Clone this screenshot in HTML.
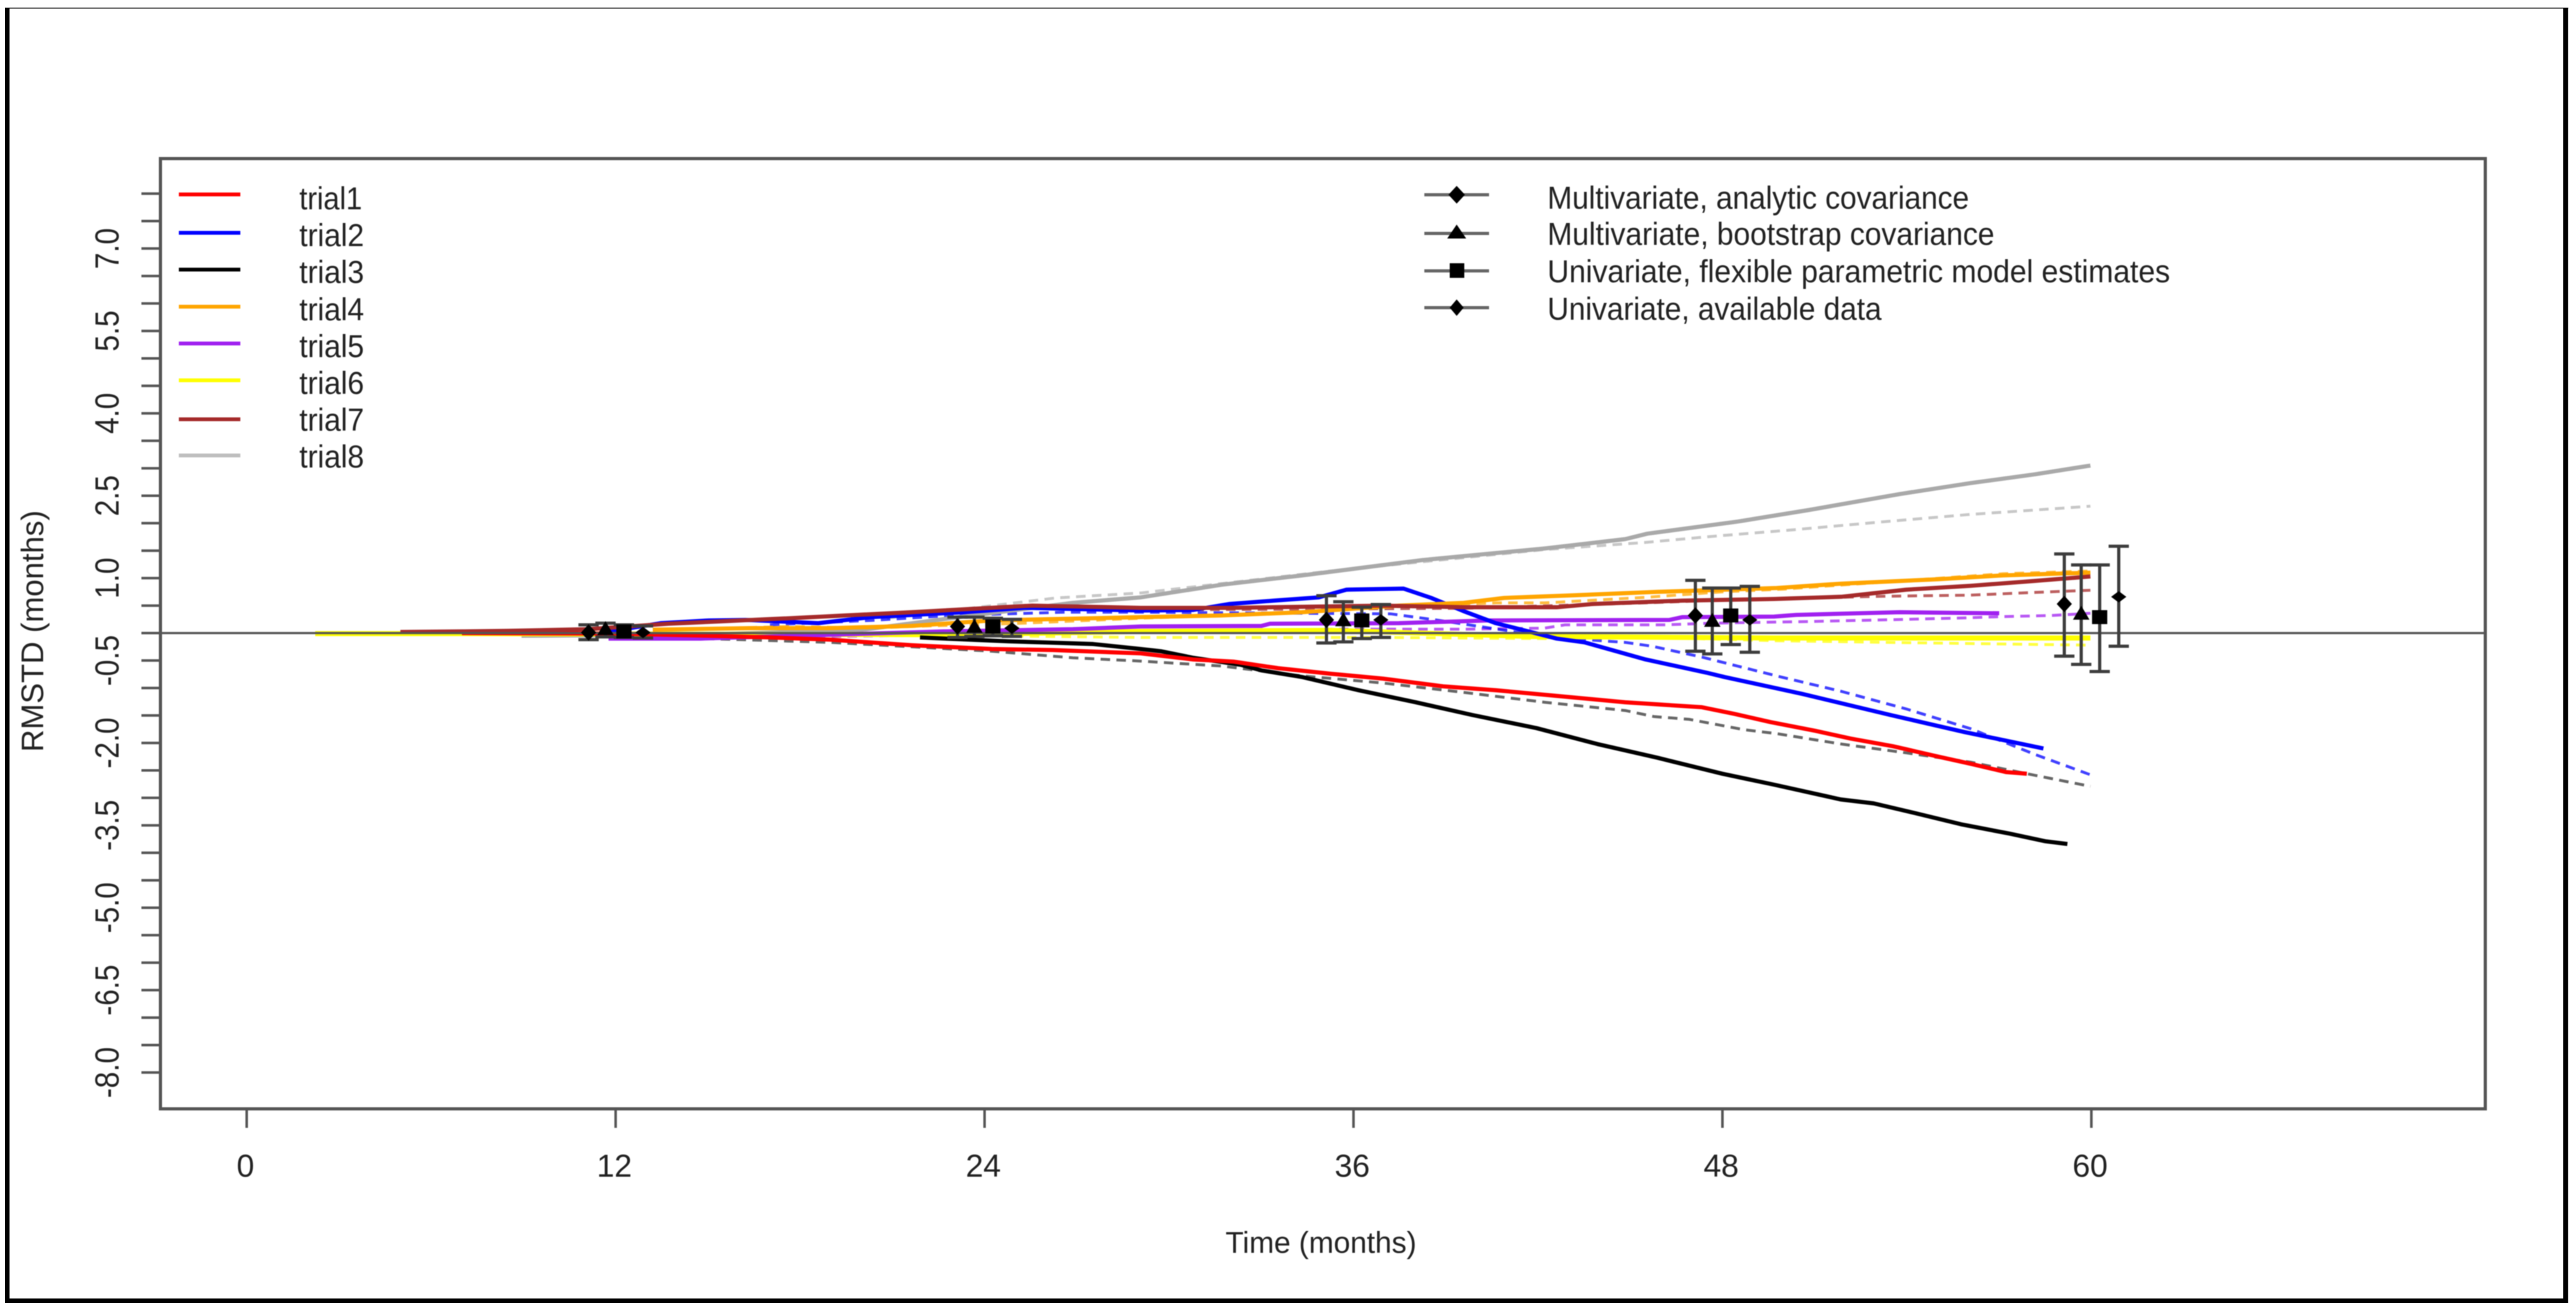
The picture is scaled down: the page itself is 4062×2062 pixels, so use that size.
<!DOCTYPE html>
<html lang="en">
<head>
<meta charset="utf-8">
<title>RMSTD over time</title>
<style>
html,body{margin:0;padding:0;background:#fff;}
svg{display:block;}
text{font-family:"Liberation Sans",sans-serif;fill:#222;}
</style>
</head>
<body>
<svg id="chart" xmlns="http://www.w3.org/2000/svg" width="4062" height="2062" viewBox="0 0 4062 2062">
  <rect x="0" y="0" width="4062" height="2062" fill="#fff"/>
  <g fill="#000">
    <rect x="8" y="12" width="4042" height="1.5"/>
    <rect x="8" y="12" width="7" height="2042"/>
    <rect x="4042" y="12" width="7.5" height="2042"/>
    <rect x="8" y="2047" width="4041.5" height="7"/>
  </g>
  <g id="soft" style="filter:blur(0.9px)">
    <g id="series-layer"></g>
    <g id="axis-layer"></g>
    <g id="estimate-layer"></g>
    <rect x="253" y="250" width="3666" height="1498" fill="none" stroke="#555" stroke-width="5"/>
    <text x="2083" y="1975" font-size="47" text-anchor="middle">Time (months)</text>
    <text transform="translate(68,995) rotate(-90)" font-size="49" text-anchor="middle">RMSTD (months)</text>
    <g font-size="50" stroke-width="6">
      <g><line x1="282" x2="379" y1="306.5" y2="306.5" stroke="#ff0000"/><text x="472" y="330" stroke="none" textLength="99" lengthAdjust="spacingAndGlyphs">trial1</text></g>
      <g><line x1="282" x2="379" y1="367" y2="367" stroke="#0000ff"/><text x="472" y="388" stroke="none" textLength="102" lengthAdjust="spacingAndGlyphs">trial2</text></g>
      <g><line x1="282" x2="379" y1="425" y2="425" stroke="#000000"/><text x="472" y="446" stroke="none" textLength="102" lengthAdjust="spacingAndGlyphs">trial3</text></g>
      <g><line x1="282" x2="379" y1="483.5" y2="483.5" stroke="#ffa500"/><text x="472" y="505" stroke="none" textLength="102" lengthAdjust="spacingAndGlyphs">trial4</text></g>
      <g><line x1="282" x2="379" y1="541.5" y2="541.5" stroke="#a020f0"/><text x="472" y="563" stroke="none" textLength="102" lengthAdjust="spacingAndGlyphs">trial5</text></g>
      <g><line x1="282" x2="379" y1="599.5" y2="599.5" stroke="#ffff00"/><text x="472" y="621" stroke="none" textLength="102" lengthAdjust="spacingAndGlyphs">trial6</text></g>
      <g><line x1="282" x2="379" y1="661" y2="661" stroke="#a52a2a"/><text x="472" y="679" stroke="none" textLength="102" lengthAdjust="spacingAndGlyphs">trial7</text></g>
      <g><line x1="282" x2="379" y1="718" y2="718" stroke="#bebebe"/><text x="472" y="737" stroke="none" textLength="102" lengthAdjust="spacingAndGlyphs">trial8</text></g>
    </g>
    <g font-size="50">
      <g>
        <line x1="2246" x2="2348" y1="307" y2="307" stroke="#666" stroke-width="5"/>
        <polygon points="2297,293 2310,307 2297,321 2284,307" fill="#000"/>
        <text x="2440" y="329" textLength="665" lengthAdjust="spacingAndGlyphs">Multivariate, analytic covariance</text>
      </g>
      <g>
        <line x1="2246" x2="2348" y1="368" y2="368" stroke="#666" stroke-width="5"/>
        <polygon points="2297,354 2312,376 2282,376" fill="#000"/>
        <text x="2440" y="386" textLength="705" lengthAdjust="spacingAndGlyphs">Multivariate, bootstrap covariance</text>
      </g>
      <g>
        <line x1="2246" x2="2348" y1="427" y2="427" stroke="#666" stroke-width="5"/>
        <rect x="2286" y="415" width="23" height="23" fill="#000"/>
        <text x="2440" y="445" textLength="982" lengthAdjust="spacingAndGlyphs">Univariate, flexible parametric model estimates</text>
      </g>
      <g>
        <line x1="2246" x2="2348" y1="485" y2="485" stroke="#666" stroke-width="5"/>
        <polygon points="2297,472 2308,485 2297,498 2286,485" fill="#000"/>
        <text x="2440" y="504" textLength="527" lengthAdjust="spacingAndGlyphs">Univariate, available data</text>
      </g>
    </g>
  </g>
</svg>
<script>
// ---- axis data ----
const xTickValues = [0, 12, 24, 36, 48, 60];
const xTickLabels = ["0", "12", "24", "36", "48", "60"];
const yMinorTicks = [-8, -7.5, -7, -6.5, -6, -5.5, -5, -4.5, -4, -3.5, -3, -2.5, -2, -1.5, -1, -0.5, 0, 0.5, 1, 1.5, 2, 2.5, 3, 3.5, 4, 4.5, 5, 5.5, 6, 6.5, 7, 7.5, 8];
const yTickLabels = ["7.0", "5.5", "4.0", "2.5", "1.0", "-0.5", "-2.0", "-3.5", "-5.0", "-6.5", "-8.0"];

// ---- solid observed series ----
const trial1Months = [7, 12, 15, 17.02, 18.98, 21.62, 24.23, 26.21, 29.08, 30.79, 32.1, 33.55, 35.26, 36.97, 38.92, 40.63, 42.74, 44.84, 47.33, 48.38, 49.56, 51.02, 52.17, 53.55, 55.02, 56.07, 57.22, 57.9];
const trial1Rmstd = [0, -0.01, -0.05, -0.08, -0.12, -0.22, -0.29, -0.31, -0.37, -0.48, -0.52, -0.64, -0.74, -0.83, -0.97, -1.04, -1.15, -1.26, -1.35, -1.47, -1.62, -1.78, -1.92, -2.06, -2.25, -2.38, -2.53, -2.56];
const trial2Months = [11.5, 13.46, 15.04, 16.22, 18.59, 20.3, 23.33, 25.28, 29.08, 30.79, 31.97, 33.4, 34.87, 35.77, 37.63, 38.53, 39.58, 40.63, 41.69, 42.61, 43.52, 45.5, 47.48, 48.07, 50.61, 53.45, 55.86, 58.44];
const trial2Rmstd = [0, 0.18, 0.23, 0.24, 0.18, 0.29, 0.38, 0.46, 0.41, 0.42, 0.53, 0.59, 0.65, 0.79, 0.81, 0.64, 0.4, 0.18, 0.03, -0.1, -0.17, -0.48, -0.72, -0.8, -1.11, -1.49, -1.8, -2.1];
const trial3Months = [21.9, 22.28, 24.77, 25.94, 27.53, 29.08, 29.73, 30.79, 32.35, 33.01, 34.33, 36.16, 38.02, 39.85, 41.95, 43.93, 45.89, 47.99, 49.68, 51.86, 52.92, 54.28, 55.76, 57.33, 58.5, 59.22];
const trial3Rmstd = [-0.08, -0.09, -0.15, -0.17, -0.2, -0.29, -0.33, -0.45, -0.58, -0.68, -0.8, -1.04, -1.26, -1.49, -1.73, -2.02, -2.27, -2.56, -2.76, -3.03, -3.1, -3.28, -3.48, -3.65, -3.79, -3.84];
const trial4Months = [13.21, 16.36, 18.98, 21.62, 24.23, 29.08, 31.71, 34.33, 37.48, 39.58, 40.9, 43.27, 45.89, 49.76, 51.86, 55.02, 57.12, 59.97];
const trial4Rmstd = [0.06, 0.09, 0.09, 0.13, 0.23, 0.29, 0.32, 0.38, 0.5, 0.55, 0.64, 0.69, 0.75, 0.82, 0.9, 0.98, 1.05, 1.1];
const trial5Months = [11.77, 14.77, 22.67, 26.87, 29.08, 33.01, 33.28, 37.48, 40.37, 46.28, 46.69, 49.68, 50.4, 53.76, 57];
const trial5Rmstd = [-0.1, -0.1, 0.03, 0.07, 0.12, 0.13, 0.17, 0.18, 0.23, 0.24, 0.29, 0.3, 0.33, 0.38, 0.36];
const trial6Months = [2.23, 6.7, 22.89, 29.08, 35.26, 41.69, 49.68, 59.97];
const trial6Rmstd = [-0.01, -0.01, -0.03, 0.03, 0.05, -0.06, -0.09, -0.09];
const trial7Months = [5, 7.1, 8.47, 11.11, 13.72, 17.66, 21.62, 25.55, 29.08, 31.97, 36.97, 39.58, 42.61, 43.79, 46.69, 49.68, 51.86, 53.97, 56.07, 58.17, 59.97];
const trial7Rmstd = [0.02, 0.03, 0.04, 0.07, 0.17, 0.27, 0.38, 0.5, 0.46, 0.46, 0.5, 0.47, 0.47, 0.53, 0.59, 0.62, 0.66, 0.79, 0.86, 0.95, 1.03];
const trial8Months = [8.94, 14.65, 20.03, 22.89, 26.87, 29.08, 31.71, 34.33, 38.26, 42.22, 44.84, 45.56, 48.5, 50.81, 53.76, 56.07, 58.17, 59.97];
const trial8Rmstd = [-0.05, -0.03, 0.06, 0.27, 0.55, 0.65, 0.88, 1.05, 1.33, 1.54, 1.71, 1.81, 2.03, 2.24, 2.53, 2.73, 2.89, 3.05];

// ---- dashed predicted series ----
const trial1DashMonths = [14.9, 18.98, 21.62, 24.23, 26.87, 29.08, 31.71, 34.33, 36.97, 39.58, 42.22, 44.84, 45.77, 46.92, 48.71, 49.76, 51.86, 53.97, 56.07, 58.17, 59.97];
const trial1DashRmstd = [-0.1, -0.17, -0.25, -0.33, -0.45, -0.51, -0.6, -0.78, -0.91, -1.08, -1.26, -1.41, -1.52, -1.57, -1.76, -1.83, -2.02, -2.18, -2.35, -2.59, -2.79];
const trial2DashMonths = [17.02, 20.3, 22.91, 26.6, 29.08, 37.21, 38.8, 42.47, 44.84, 45.72, 47.35, 49.76, 51.86, 53.97, 56.07, 58.17, 59.97];
const trial2DashRmstd = [0.15, 0.23, 0.32, 0.38, 0.38, 0.35, 0.23, -0.08, -0.17, -0.24, -0.44, -0.78, -1.06, -1.38, -1.74, -2.21, -2.58];
const trial4DashMonths = [13.72, 17.66, 20.3, 21.62, 25.28, 29.08, 31.71, 34.33, 36.97, 40.63, 42.22, 45.5, 48, 50, 57.12, 59.97];
const trial4DashRmstd = [0.06, 0.12, 0.09, 0.12, 0.18, 0.27, 0.32, 0.38, 0.47, 0.55, 0.55, 0.65, 0.75, 0.8, 1.08, 1.13];
const trial5DashMonths = [14.9, 16.9, 35.38, 39.58, 42.22, 42.88, 46.16, 47.66, 50.81, 53.97, 56.07, 57.12, 58.71, 59.97];
const trial5DashRmstd = [-0.08, -0.08, 0.07, 0.07, 0.09, 0.15, 0.15, 0.18, 0.21, 0.25, 0.28, 0.3, 0.32, 0.36];
const trial6DashMonths = [20.83, 29.08, 36.97, 42.22, 45.77, 49.76, 54.71, 59.97];
const trial6DashRmstd = [-0.03, -0.08, -0.08, -0.1, -0.08, -0.14, -0.18, -0.22];
const trial7DashMonths = [20, 25, 29.08, 39.58, 45.5, 48, 53.22, 56.07, 58.17, 59.97];
const trial7DashRmstd = [0.3, 0.45, 0.42, 0.45, 0.55, 0.6, 0.67, 0.69, 0.74, 0.78];
const trial8DashMonths = [20.83, 26.33, 29.08, 35.26, 42.22, 45.5, 47.66, 50.3, 52.92, 56.07, 58.17, 59.97];
const trial8DashRmstd = [0.27, 0.64, 0.73, 1.13, 1.52, 1.65, 1.76, 1.88, 2.01, 2.16, 2.24, 2.31];

// ---- pooled estimates at each landmark time ----
const landmarkMonths = [12, 24, 36, 48, 60];
const analyticEstimate = [0.01, 0.12, 0.24, 0.32, 0.53];
const analyticLower = [-0.12, -0.08, -0.18, -0.33, -0.42];
const analyticUpper = [0.15, 0.29, 0.68, 0.96, 1.44];
const bootstrapEstimate = [0.08, 0.12, 0.24, 0.23, 0.36];
const bootstrapLower = [-0.07, -0.06, -0.16, -0.38, -0.57];
const bootstrapUpper = [0.18, 0.29, 0.57, 0.82, 1.24];
const flexibleEstimate = [0.03, 0.12, 0.23, 0.32, 0.29];
const flexibleLower = [-0.08, -0.05, -0.1, -0.21, -0.7];
const flexibleUpper = [0.15, 0.27, 0.47, 0.82, 1.24];
const availableEstimate = [0.01, 0.09, 0.24, 0.24, 0.66];
const availableLower = [-0.09, -0.06, -0.08, -0.35, -0.24];
const availableUpper = [0.13, 0.25, 0.52, 0.85, 1.58];
const methodOffsetMonths = [-0.88, -0.33, 0.27, 0.89];

// ---- axis functions ----
function xScale(month) { return 389 + 48.48 * month; }
function yScale(value) { return 998 - 86.6 * value; }

const NS = "http://www.w3.org/2000/svg";
function make(tag, attrs, parent) {
  const node = document.createElementNS(NS, tag);
  for (const key in attrs) node.setAttribute(key, attrs[key]);
  parent.appendChild(node);
  return node;
}

const seriesLayer = document.getElementById("series-layer");
const axisLayer = document.getElementById("axis-layer");
const estimateLayer = document.getElementById("estimate-layer");

function pathFrom(months, values) {
  return months.map(function (m, i) { return xScale(m).toFixed(1) + "," + yScale(values[i]).toFixed(1); }).join(" ");
}

function drawDashed(months, values, color, label) {
  const el = make("polyline", { points: pathFrom(months, values), fill: "none", stroke: color, "stroke-width": 4.5, "stroke-dasharray": "15 10", opacity: 0.75 }, seriesLayer);
  
  
}
function drawSolid(months, values, color, label, width) {
  const el = make("polyline", { points: pathFrom(months, values), fill: "none", stroke: color, "stroke-width": width, "stroke-linejoin": "round" }, seriesLayer);
  
  
}

drawDashed(trial8DashMonths, trial8DashRmstd, "#b4b4b4", "trial8-dashed-line");
drawDashed(trial6DashMonths, trial6DashRmstd, "#ffff00", "trial6-dashed-line");
drawDashed(trial5DashMonths, trial5DashRmstd, "#a020f0", "trial5-dashed-line");
drawDashed(trial7DashMonths, trial7DashRmstd, "#a52a2a", "trial7-dashed-line");
drawDashed(trial2DashMonths, trial2DashRmstd, "#0000ff", "trial2-dashed-line");
drawDashed(trial1DashMonths, trial1DashRmstd, "#333333", "trial1-dashed-line");
drawSolid(trial8Months, trial8Rmstd, "#a9a9a9", "trial8-line", 6.5);
drawSolid(trial6Months, trial6Rmstd, "#ffff00", "trial6-line", 8);
drawSolid(trial5Months, trial5Rmstd, "#a020f0", "trial5-line", 6.5);
drawSolid(trial3Months, trial3Rmstd, "#000000", "trial3-line", 6.5);
drawSolid(trial1Months, trial1Rmstd, "#ff0000", "trial1-line", 6.5);
drawSolid(trial2Months, trial2Rmstd, "#0000ff", "trial2-line", 6.5);
drawSolid(trial4Months, trial4Rmstd, "#ffa500", "trial4-line", 6.5);
drawDashed(trial4DashMonths, trial4DashRmstd, "#ffa500", "trial4-dashed-line");
drawSolid(trial7Months, trial7Rmstd, "#a52a2a", "trial7-line", 6.5);

// zero reference line
const zeroLine = make("line", { x1: 253, x2: 3919, y1: yScale(0), y2: yScale(0), stroke: "#555", "stroke-width": 3.5 }, axisLayer);



// x axis
xTickValues.forEach(function (month, i) {
  const tick = make("line", { x1: xScale(month), x2: xScale(month), y1: 1748, y2: 1778, stroke: "#555", "stroke-width": 4 }, axisLayer);
  
  
  const label = make("text", { x: xScale(month) - 2, y: 1855, "font-size": 50, "text-anchor": "middle" }, axisLayer);
  
  
  label.textContent = xTickLabels[i];
});

// y axis
yMinorTicks.forEach(function (value) {
  const tick = make("line", { x1: 223, x2: 253, y1: yScale(value), y2: yScale(value), stroke: "#555", "stroke-width": 4 }, axisLayer);
  
  
});
yTickLabels.forEach(function (text) {
  const label = make("text", { transform: "translate(187," + yScale(parseFloat(text)) + ") rotate(-90) scale(0.88,1)", "font-size": 53, "text-anchor": "middle" }, axisLayer);
  
  
  label.textContent = text;
});

// pooled estimates with error bars
function drawInterval(groupIndex, methodIndex, estimate, lower, upper, capHalf, label) {
  const cx = xScale(landmarkMonths[groupIndex] + methodOffsetMonths[methodIndex]);
  const group = make("g", { stroke: "#3c3c3c", "stroke-width": 5 }, estimateLayer);
  
  
  make("line", { x1: cx, x2: cx, y1: yScale(upper), y2: yScale(lower) }, group);
  make("line", { x1: cx - capHalf, x2: cx + capHalf, y1: yScale(upper), y2: yScale(upper) }, group);
  make("line", { x1: cx - capHalf, x2: cx + capHalf, y1: yScale(lower), y2: yScale(lower) }, group);
  return { group: group, cx: cx, cy: yScale(estimate) };
}
function diamond(parts, halfW, halfH) {
  make("polygon", { fill: "#000", stroke: "none", points: [parts.cx, parts.cy - halfH, parts.cx + halfW, parts.cy, parts.cx, parts.cy + halfH, parts.cx - halfW, parts.cy].join(",") }, parts.group);
}
landmarkMonths.forEach(function (month, i) {
  const a = drawInterval(i, 0, analyticEstimate[i], analyticLower[i], analyticUpper[i], 16, "analytic-estimate-" + month);
  diamond(a, 12, 13);
  const b = drawInterval(i, 1, bootstrapEstimate[i], bootstrapLower[i], bootstrapUpper[i], 16, "bootstrap-estimate-" + month);
  make("polygon", { fill: "#000", stroke: "none", points: [b.cx, b.cy - 12, b.cx + 13, b.cy + 10, b.cx - 13, b.cy + 10].join(",") }, b.group);
  const c = drawInterval(i, 2, flexibleEstimate[i], flexibleLower[i], flexibleUpper[i], 16, "flexible-estimate-" + month);
  make("rect", { fill: "#000", stroke: "none", x: c.cx - 12, y: c.cy - 11, width: 24, height: 22 }, c.group);
  const d = drawInterval(i, 3, availableEstimate[i], availableLower[i], availableUpper[i], 16, "available-estimate-" + month);
  diamond(d, 12, 9);
});
</script>
</body>
</html>
